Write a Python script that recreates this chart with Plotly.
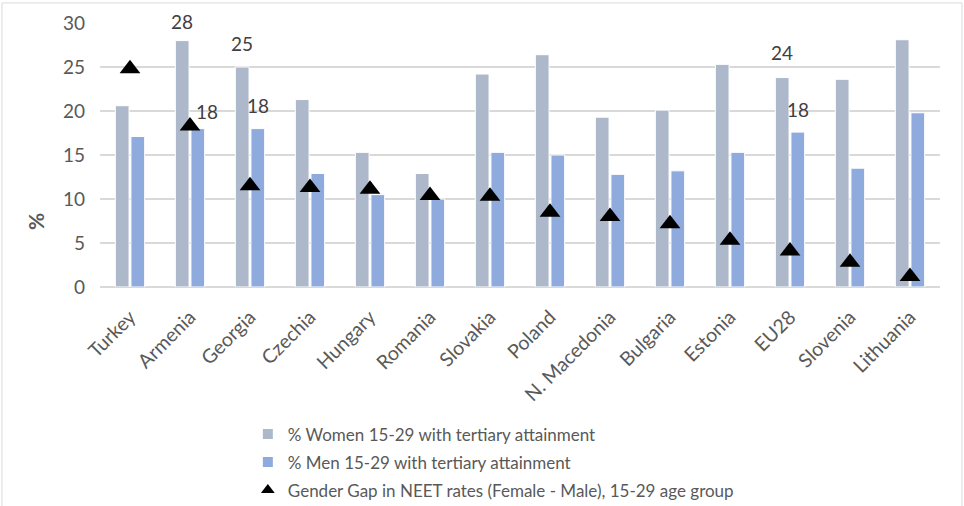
import plotly.graph_objects as go

countries = ["Turkey", "Armenia", "Georgia", "Czechia", "Hungary", "Romania", "Slovakia",
             "Poland", "N. Macedonia", "Bulgaria", "Estonia", "EU28", "Slovenia", "Lithuania"]
women_tertiary = [20.6, 28.0, 25.0, 21.3, 15.3, 12.9, 24.2, 26.4, 19.3, 20.1, 25.3, 23.8, 23.6, 28.1]
men_tertiary = [17.1, 18.0, 18.0, 12.9, 10.5, 10.0, 15.3, 15.0, 12.8, 13.2, 15.3, 17.6, 13.5, 19.8]
neet_gap = [24.8, 18.3, 11.5, 11.3, 11.1, 10.4, 10.3, 8.5, 8.0, 7.2, 5.3, 4.1, 2.8, 1.2]

# value labels shown on selected bars: (country, series, dx, dy) offsets in px
labelled = [("Armenia", "w", 0, 19), ("Armenia", "m", 9, 17),
            ("Georgia", "w", 0, 24), ("Georgia", "m", 0, 23),
            ("EU28", "w", 0, 25), ("EU28", "m", 0, 23)]

FONT = "Lato"
GREY = "#595959"

fig = go.Figure()
fig.add_bar(x=countries, y=women_tertiary, name="% Women 15-29 with tertiary attainment",
            legendgroup="w", marker=dict(color="#ADB9CA", line=dict(color="white", width=1)))
fig.add_bar(x=countries, y=men_tertiary, name="% Men 15-29 with tertiary attainment",
            legendgroup="m", marker=dict(color="#8FAADC", line=dict(color="white", width=1)))
fig.add_scatter(x=countries, y=neet_gap, mode="markers", legendgroup="g",
                name="Gender Gap in NEET rates (Female - Male), 15-29 age group",
                marker=dict(symbol="triangle-up", size=18, color="black"))

for c, s, dx, dy in labelled:
    i = countries.index(c)
    val = women_tertiary[i] if s == "w" else men_tertiary[i]
    off = -0.13 if s == "w" else 0.13
    fig.add_annotation(x=i + off, y=val, text=f"{val:.0f}", showarrow=False,
                       xshift=dx, yshift=dy, yanchor="middle", xanchor="center",
                       font=dict(family=FONT, size=19, color="#404040"))

fig.add_annotation(x=-0.0774, y=0.25, xref="paper", yref="paper", text="<b>%</b>",
                   textangle=-90, showarrow=False, xanchor="center", yanchor="middle",
                   font=dict(family=FONT, size=21, color=GREY))

# chart-area border
border = dict(color="#D9D9D9", width=1)
for x0, y0, x1, y1 in [(-0.1167, 1.076, 1.0262, 1.076), (-0.1167, 1.076, -0.1167, -1.0),
                       (1.0262, 1.076, 1.0262, -1.0)]:
    fig.add_shape(type="line", xref="paper", yref="paper", x0=x0, y0=y0, x1=x1, y1=y1,
                  line=border)

fig.update_layout(
    width=964, height=506,
    margin=dict(l=100, r=24, t=23, b=219, autoexpand=False),
    paper_bgcolor="white", plot_bgcolor="white",
    barmode="group", bargap=0.48, bargroupgap=0.12,
    font=dict(family=FONT, size=18, color=GREY),
    showlegend=True,
    legend=dict(orientation="v", x=0.176, xanchor="left", y=-0.49, yanchor="top",
                font=dict(family=FONT, size=17, color=GREY), traceorder="grouped",
                itemsizing="constant", tracegroupgap=3, bgcolor="rgba(0,0,0,0)"),
    xaxis=dict(range=[-0.5, len(countries) - 0.5], tickangle=-45, showgrid=False,
               showline=False, ticks="", ticklabelstandoff=14, automargin=False,
               tickfont=dict(family=FONT, size=19.5, color=GREY)),
    yaxis=dict(range=[0, 30], dtick=5, showgrid=True, gridcolor="#D9D9D9", gridwidth=1.5,
               zeroline=True, zerolinecolor="#D9D9D9", zerolinewidth=1.5, automargin=False,
               ticklabelstandoff=14, tickfont=dict(family=FONT, size=19, color=GREY)),
)

fig.write_html("out.html")
